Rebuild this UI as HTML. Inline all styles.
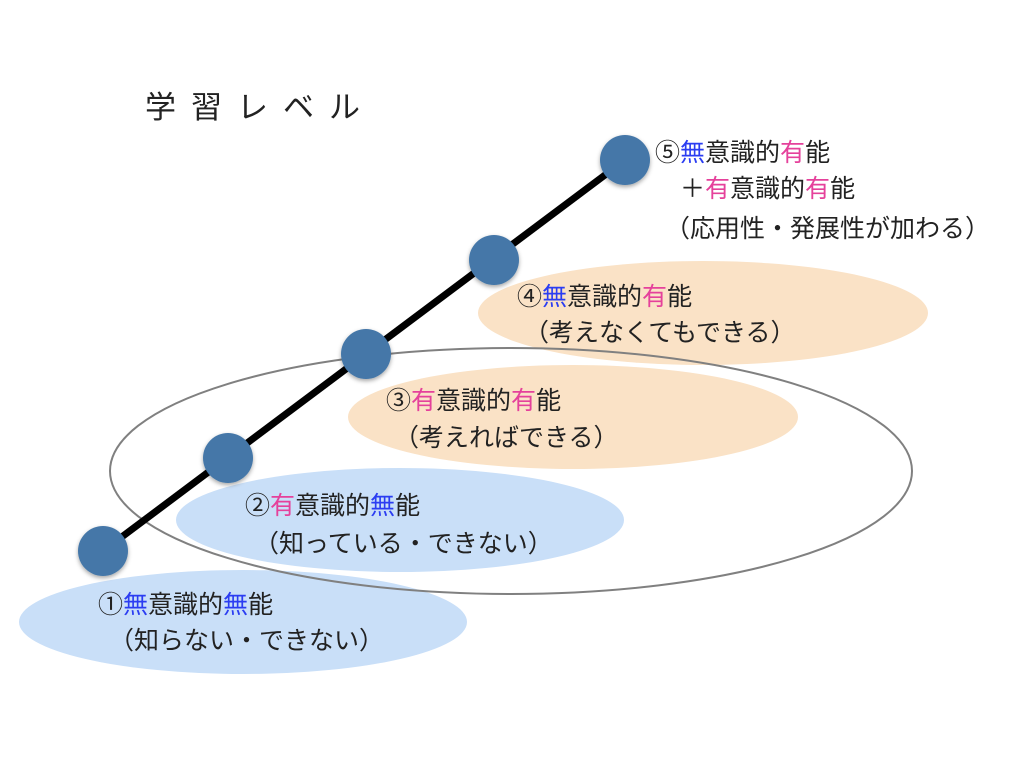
<!DOCTYPE html>
<html><head><meta charset="utf-8"><style>
html,body{margin:0;padding:0;background:#fff;}
svg{display:block;}
text{font-family:"Liberation Sans","Noto Sans CJK JP",sans-serif;fill:#222;font-size:25px;}
.b{fill:#2b3df2}.p{fill:#e5419b}
</style></head><body>
<svg width="1024" height="768" viewBox="0 0 1024 768">
<defs><filter id="sh" x="-30%" y="-30%" width="160%" height="160%"><feDropShadow dx="0" dy="2" stdDeviation="2" flood-color="#000" flood-opacity="0.35"/></filter></defs>
<ellipse cx="243" cy="622" rx="224" ry="52" fill="#c9dff8"/>
<ellipse cx="400" cy="520" rx="224" ry="52" fill="#c9dff8"/>
<ellipse cx="573" cy="417" rx="225" ry="52" fill="#fae2c6"/>
<ellipse cx="703" cy="313" rx="225" ry="52" fill="#fae2c6"/>
<ellipse cx="511" cy="471" rx="401" ry="123" fill="none" stroke="#808080" stroke-width="2"/>
<line x1="103" y1="551" x2="625" y2="160" stroke="#000" stroke-width="7"/>
<g fill="#4477a8" filter="url(#sh)">
<circle cx="103" cy="551" r="25"/><circle cx="228" cy="458" r="25"/><circle cx="366" cy="354" r="25"/><circle cx="494" cy="260" r="25"/><circle cx="625" cy="160" r="25"/>
</g>
<text x="145" y="118" style="font-size:31px;letter-spacing:15px">学習レベル</text>
<text x="655" y="161">⑤<tspan class="b">無</tspan>意識的<tspan class="p">有</tspan>能</text>
<text x="680" y="197">＋<tspan class="p">有</tspan>意識的<tspan class="p">有</tspan>能</text>
<text x="665" y="237">（応用性・発展性が加わる）</text>
<text x="517" y="305">④<tspan class="b">無</tspan>意識的<tspan class="p">有</tspan>能</text>
<text x="524" y="341">（考えなくてもできる）</text>
<text x="386" y="409">③<tspan class="p">有</tspan>意識的<tspan class="p">有</tspan>能</text>
<text x="394" y="446">（考えればできる）</text>
<text x="245" y="514">②<tspan class="p">有</tspan>意識的<tspan class="b">無</tspan>能</text>
<text x="254" y="552">（知っている・できない）</text>
<text x="98" y="613">①<tspan class="b">無</tspan>意識的<tspan class="b">無</tspan>能</text>
<text x="109" y="649">（知らない・できない）</text>
</svg>
</body></html>
